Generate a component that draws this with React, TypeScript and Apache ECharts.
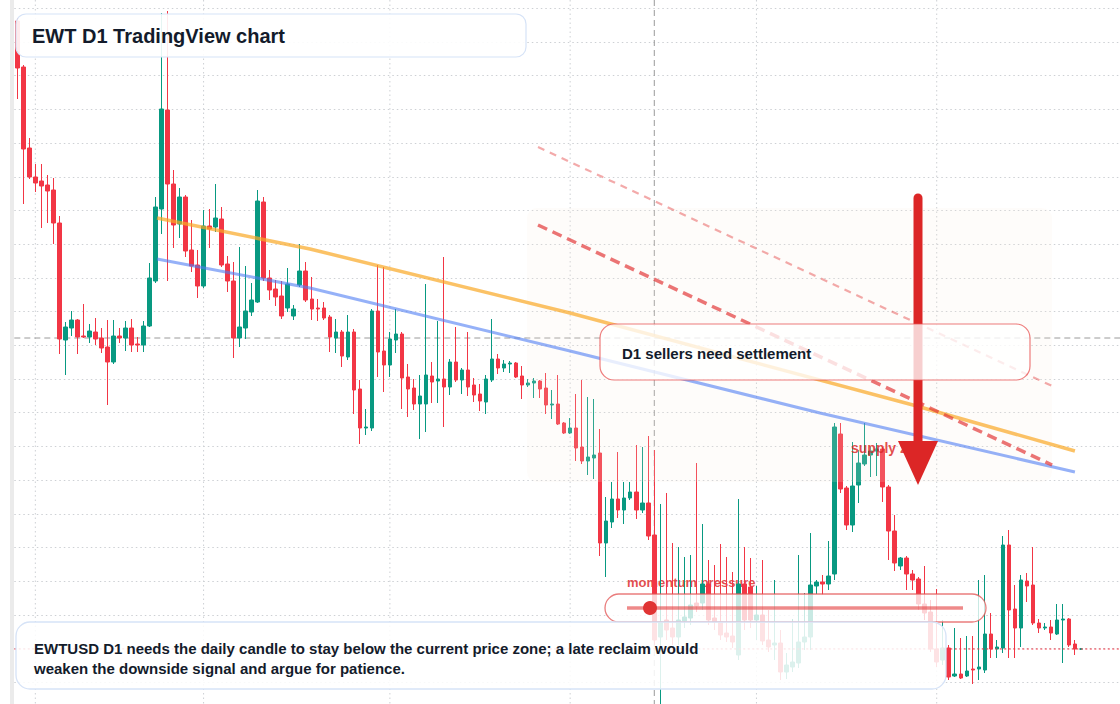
import React, { useEffect, useRef } from "react";
import * as echarts from "echarts";

// Daily EWT/USD candles: [open, close, low, high]
const CANDLES: number[][] = [
  [2.085, 1.944, 1.851, 2.094], [1.947, 1.701, 1.536, 1.953], [1.704, 1.617, 1.611, 1.734], [1.617, 1.599, 1.572, 1.656],
  [1.605, 1.59, 1.464, 1.656], [1.593, 1.575, 1.479, 1.623], [1.578, 1.479, 1.416, 1.614], [1.479, 1.131, 1.086, 1.5],
  [1.128, 1.167, 1.023, 1.182], [1.164, 1.188, 1.14, 1.215], [1.188, 1.137, 1.086, 1.191], [1.14, 1.137, 1.134, 1.236],
  [1.137, 1.155, 1.119, 1.176], [1.152, 1.131, 1.113, 1.194], [1.134, 1.104, 1.089, 1.164], [1.107, 1.062, 0.933, 1.188],
  [1.062, 1.14, 1.056, 1.188], [1.14, 1.134, 1.119, 1.164], [1.134, 1.164, 1.095, 1.185], [1.164, 1.113, 1.092, 1.191],
  [1.116, 1.113, 1.092, 1.137], [1.113, 1.17, 1.092, 1.185], [1.17, 1.314, 1.167, 1.359], [1.305, 1.527, 1.299, 1.557],
  [1.521, 1.821, 1.446, 2.109], [1.818, 1.596, 1.305, 2.115], [1.596, 1.473, 1.404, 1.638], [1.476, 1.557, 1.434, 1.584],
  [1.557, 1.395, 1.377, 1.563], [1.398, 1.35, 1.332, 1.488], [1.353, 1.29, 1.254, 1.398], [1.29, 1.47, 1.284, 1.518],
  [1.47, 1.461, 1.404, 1.521], [1.467, 1.494, 1.452, 1.596], [1.491, 1.353, 1.347, 1.527], [1.356, 1.305, 1.272, 1.38],
  [1.305, 1.134, 1.074, 1.362], [1.134, 1.167, 1.107, 1.407], [1.164, 1.215, 1.131, 1.35], [1.212, 1.248, 1.2, 1.299],
  [1.242, 1.545, 1.239, 1.578], [1.542, 1.314, 1.305, 1.557], [1.314, 1.278, 1.248, 1.338], [1.281, 1.257, 1.23, 1.308],
  [1.26, 1.2, 1.191, 1.305], [1.224, 1.296, 1.212, 1.344], [1.2, 1.221, 1.188, 1.233], [1.293, 1.335, 1.287, 1.416],
  [1.335, 1.248, 1.242, 1.362], [1.251, 1.221, 1.188, 1.317], [1.224, 1.221, 1.185, 1.251], [1.224, 1.194, 1.188, 1.242],
  [1.197, 1.137, 1.092, 1.203], [1.134, 1.152, 1.089, 1.191], [1.152, 1.08, 1.047, 1.158], [1.077, 1.152, 1.068, 1.203],
  [1.152, 0.978, 0.906, 1.161], [0.981, 0.864, 0.816, 1.008], [0.864, 0.867, 0.843, 0.921], [0.864, 1.215, 0.855, 1.221],
  [1.215, 1.092, 1.017, 1.353], [1.095, 1.053, 0.972, 1.347], [1.053, 1.131, 1.017, 1.152], [1.128, 1.146, 1.089, 1.221],
  [1.146, 1.014, 0.921, 1.152], [1.017, 0.981, 0.897, 1.056], [0.984, 0.936, 0.918, 1.011], [0.936, 0.96, 0.831, 1.023],
  [0.936, 1.023, 0.852, 1.296], [1.02, 1.002, 0.939, 1.062], [1.005, 1.011, 0.939, 1.185], [1.011, 0.987, 0.867, 1.377],
  [0.987, 1.062, 0.963, 1.071], [1.062, 1.008, 1.002, 1.167], [1.008, 1.038, 0.966, 1.044], [1.038, 0.987, 0.96, 1.152],
  [0.993, 0.963, 0.942, 1.014], [0.966, 0.945, 0.915, 0.996], [0.942, 1.011, 0.906, 1.023], [1.008, 1.071, 1.002, 1.191],
  [1.071, 1.044, 1.026, 1.086], [1.044, 1.056, 1.032, 1.068], [1.056, 1.059, 1.029, 1.065], [1.059, 1.017, 1.014, 1.062],
  [1.02, 0.993, 0.951, 1.05], [0.993, 0.999, 0.987, 1.011], [0.999, 1.005, 0.954, 1.014], [1.005, 0.981, 0.954, 1.008],
  [0.984, 0.933, 0.906, 1.029], [0.933, 0.936, 0.891, 0.978], [0.936, 0.876, 0.873, 1.023], [0.879, 0.849, 0.846, 0.882],
  [0.849, 0.864, 0.846, 0.894], [0.864, 0.804, 0.765, 0.966], [0.807, 0.765, 0.756, 1.008], [0.765, 0.777, 0.723, 0.957],
  [0.774, 0.783, 0.711, 0.951], [0.789, 0.519, 0.48, 0.861], [0.519, 0.585, 0.417, 0.657], [0.582, 0.651, 0.564, 0.702],
  [0.651, 0.618, 0.594, 0.792], [0.618, 0.654, 0.576, 0.702], [0.654, 0.672, 0.648, 0.702], [0.672, 0.618, 0.591, 0.813],
  [0.618, 0.639, 0.609, 0.807], [0.639, 0.54, 0.528, 0.84], [0.543, 0.228, 0.213, 0.798], [0.237, 0.282, 0.036, 0.636],
  [0.288, 0.258, 0.228, 0.669], [0.264, 0.237, 0.213, 0.519], [0.237, 0.288, 0.213, 0.507], [0.285, 0.297, 0.264, 0.477],
  [0.294, 0.333, 0.273, 0.483], [0.339, 0.33, 0.312, 0.759], [0.339, 0.396, 0.318, 0.576], [0.396, 0.288, 0.273, 0.468],
  [0.294, 0.282, 0.258, 0.453], [0.282, 0.243, 0.228, 0.516], [0.249, 0.237, 0.222, 0.477], [0.24, 0.222, 0.204, 0.432],
  [0.183, 0.396, 0.168, 0.651], [0.396, 0.288, 0.258, 0.507], [0.387, 0.288, 0.264, 0.474], [0.288, 0.303, 0.228, 0.39],
  [0.303, 0.225, 0.213, 0.468], [0.228, 0.207, 0.192, 0.318], [0.213, 0.219, 0.168, 0.408], [0.219, 0.132, 0.108, 0.258],
  [0.132, 0.153, 0.111, 0.189], [0.147, 0.162, 0.132, 0.291], [0.159, 0.222, 0.144, 0.483], [0.222, 0.237, 0.198, 0.369],
  [0.237, 0.393, 0.198, 0.549], [0.39, 0.402, 0.366, 0.408], [0.402, 0.396, 0.363, 0.423], [0.396, 0.42, 0.378, 0.525],
  [0.426, 0.867, 0.408, 0.879], [0.846, 0.681, 0.669, 0.879], [0.684, 0.573, 0.558, 0.69], [0.573, 0.69, 0.552, 0.822],
  [0.693, 0.759, 0.639, 0.798], [0.756, 0.783, 0.75, 0.879], [0.783, 0.795, 0.717, 0.807], [0.795, 0.801, 0.72, 0.819],
  [0.801, 0.687, 0.642, 0.807], [0.687, 0.555, 0.468, 0.693], [0.555, 0.459, 0.435, 0.603], [0.45, 0.474, 0.438, 0.477],
  [0.474, 0.426, 0.378, 0.48], [0.426, 0.408, 0.378, 0.438], [0.411, 0.336, 0.318, 0.417], [0.336, 0.309, 0.288, 0.45],
  [0.312, 0.201, 0.192, 0.348], [0.201, 0.162, 0.147, 0.381], [0.168, 0.204, 0.153, 0.288], [0.204, 0.117, 0.108, 0.213],
  [0.12, 0.126, 0.117, 0.264], [0.126, 0.114, 0.111, 0.234], [0.12, 0.135, 0.117, 0.24], [0.141, 0.138, 0.096, 0.24],
  [0.141, 0.147, 0.108, 0.408], [0.138, 0.246, 0.129, 0.423], [0.246, 0.201, 0.174, 0.309], [0.201, 0.207, 0.174, 0.228],
  [0.204, 0.513, 0.189, 0.54], [0.513, 0.318, 0.174, 0.558], [0.321, 0.264, 0.174, 0.393], [0.264, 0.408, 0.207, 0.423],
  [0.405, 0.39, 0.342, 0.429], [0.393, 0.279, 0.273, 0.507], [0.279, 0.264, 0.249, 0.291], [0.264, 0.267, 0.258, 0.279],
  [0.267, 0.249, 0.228, 0.288], [0.246, 0.288, 0.243, 0.336], [0.288, 0.291, 0.159, 0.336], [0.291, 0.213, 0.207, 0.294],
  [0.216, 0.201, 0.183, 0.228], [0.201, 0.201, 0.198, 0.204],
];

// Time slots (candles plus empty room on the right)
const SLOT_COUNT = 184;
const START_DAY = Date.UTC(2025, 0, 29);
const DATES = Array.from({ length: SLOT_COUNT }, (_, i) =>
  new Date(START_DAY + i * 86400000).toISOString().slice(0, 10)
);
const MONTH_STARTS = DATES.map((d, i) => (d.endsWith("-01") ? i : -1)).filter((i) => i >= 0);

// Price scale
const PRICE_MIN = 0.1011;
const PRICE_MAX = 2.1231;
const PRICE_STEP = 0.1011;
const VIEW_TOP = 2.148;
const VIEW_BOTTOM = 0.036;

const LAST_PRICE = 0.201;
const CROSS_INDEX = 106;
const CROSS_PRICE = 1.134;

// Trend lines as [slot, price]
const ORANGE_TREND = [[23.25, 1.494], [48.71, 1.401], [91.98, 1.209], [149.05, 0.933], [176.0, 0.795]];
const BLUE_TREND = [[23.25, 1.371], [48.71, 1.284], [91.98, 1.095], [133.58, 0.909], [176.0, 0.732]];
const CHANNEL_UPPER = [[86.65, 1.707], [172.2, 0.99]];
const CHANNEL_LOWER = [[86.65, 1.473], [172.2, 0.753]];

const UP = "#089981";
const DOWN = "#f23645";
const FONT = '"Liberation Sans", Arial, Helvetica, sans-serif';
const INK = "#131b2b";

function lineSeries(data: number[][], lineStyle: any, z: number) {
  return {
    type: "line",
    xAxisIndex: 1,
    yAxisIndex: 0,
    data,
    symbol: "none",
    silent: true,
    clip: false,
    z,
    lineStyle,
  };
}

export default function App() {
  const ref = useRef<HTMLDivElement>(null);

  useEffect(() => {
    if (!ref.current) return;
    const chart = echarts.init(ref.current, undefined, { renderer: "svg" });

    const gridDots = { color: "#cdd0d4", width: 1, type: [1.5, 3] };
    const monthLines = MONTH_STARTS.map((i) =>
      lineSeries([[i, VIEW_TOP], [i, VIEW_BOTTOM]], gridDots, 1)
    );

    const option: any = {
      animation: false,
      backgroundColor: "#ffffff",
      grid: { left: 14.3, right: 0, top: 8.3, bottom: 21.7 },
      xAxis: [
        { type: "category", data: DATES, boundaryGap: true, show: false },
        { type: "value", min: -0.5, max: SLOT_COUNT - 0.5, show: false },
      ],
      yAxis: {
        type: "value",
        min: PRICE_MIN,
        max: PRICE_MAX,
        interval: PRICE_STEP,
        axisLine: { show: false },
        axisTick: { show: false },
        axisLabel: { show: false },
        splitLine: { show: true, lineStyle: gridDots },
      },
      series: [
        ...monthLines,
        lineSeries([[CROSS_INDEX, VIEW_TOP], [CROSS_INDEX, VIEW_BOTTOM]], { color: "#9a9a9a", width: 1, type: [6, 4] }, 1),
        lineSeries([[-0.5, CROSS_PRICE], [SLOT_COUNT - 0.5, CROSS_PRICE]], { color: "#9a9a9a", width: 1, type: [6, 4] }, 1),
        {
          type: "candlestick",
          xAxisIndex: 0,
          yAxisIndex: 0,
          data: CANDLES,
          barWidth: 4,
          clip: false,
          silent: true,
          z: 2,
          itemStyle: { color: UP, color0: DOWN, borderColor: UP, borderColor0: DOWN, borderWidth: 1 },
        },
        lineSeries([[-0.5, LAST_PRICE], [SLOT_COUNT - 0.5, LAST_PRICE]], { color: DOWN, width: 1.2, type: [2, 2.5] }, 3),
        lineSeries(ORANGE_TREND, { color: "rgba(249,168,37,0.7)", width: 3.5 }, 5),
        lineSeries(BLUE_TREND, { color: "rgba(79,125,243,0.6)", width: 3 }, 5),
        lineSeries(CHANNEL_UPPER, { color: "rgba(226,52,52,0.42)", width: 2.2, type: [7, 6] }, 5),
        lineSeries(CHANNEL_LOWER, { color: "rgba(226,52,52,0.68)", width: 3.5, type: [10, 6] }, 5),
      ],
      graphic: [
        { type: "rect", z: 0, silent: true, shape: { x: 10, y: 0, width: 4, height: 704 }, style: { fill: "#ebebeb" } },
        {
          type: "text", z: 1, silent: true, x: 627, y: 582,
          style: { text: "momentum pressure", font: `bold 13px ${FONT}`, fill: "rgba(220,38,38,0.82)", verticalAlign: "middle" },
        },
        {
          type: "rect", z: 4, silent: true,
          shape: { x: 527, y: 208, width: 525, height: 274, r: 10 },
          style: { fill: "rgba(250,236,224,0.16)" },
        },
        {
          type: "text", z: 6, silent: true, x: 851, y: 448,
          style: { text: "supply zone", font: `bold 14px ${FONT}`, fill: "rgba(220,38,38,0.82)", verticalAlign: "middle" },
        },
        {
          type: "line", z: 6, silent: true,
          shape: { x1: 918, y1: 198, x2: 918, y2: 446 },
          style: { stroke: "#dc2626", lineWidth: 9, lineCap: "round" },
        },
        {
          type: "rect", z: 7, silent: true,
          shape: { x: 600, y: 324, width: 430, height: 56, r: 14 },
          style: { fill: "rgba(255,255,255,0.78)", stroke: "rgba(232,82,82,0.75)", lineWidth: 1.2 },
        },
        {
          type: "text", z: 10, silent: true, x: 622, y: 353,
          style: { text: "D1 sellers need settlement", font: `bold 15px ${FONT}`, fill: INK, verticalAlign: "middle" },
        },
        {
          type: "polygon", z: 8, silent: true,
          shape: { points: [[898, 441], [938, 441], [918, 485]] },
          style: { fill: "#dc2626" },
        },
        {
          type: "rect", z: 7, silent: true,
          shape: { x: 605, y: 594, width: 381, height: 28, r: 14 },
          style: { fill: "rgba(255,255,255,0.78)", stroke: "rgba(226,80,80,0.75)", lineWidth: 1.3 },
        },
        {
          type: "line", z: 8, silent: true,
          shape: { x1: 627, y1: 608, x2: 963, y2: 608 },
          style: { stroke: "rgba(226,60,60,0.6)", lineWidth: 3.5 },
        },
        {
          type: "circle", z: 8, silent: true,
          shape: { cx: 650, cy: 608, r: 7 },
          style: { fill: "#e03434" },
        },
        {
          type: "rect", z: 9, silent: true,
          shape: { x: 16, y: 622, width: 930, height: 67, r: 14 },
          style: { fill: "rgba(255,255,255,0.86)", stroke: "#d6e3f7", lineWidth: 1.3 },
        },
        {
          type: "text", z: 10, silent: true, x: 34, y: 648,
          style: {
            text: "EWTUSD D1 needs the daily candle to stay below the current price zone; a late reclaim would",
            font: `bold 15px ${FONT}`, fill: INK, verticalAlign: "middle",
          },
        },
        {
          type: "text", z: 10, silent: true, x: 34, y: 668,
          style: {
            text: "weaken the downside signal and argue for patience.",
            font: `bold 15px ${FONT}`, fill: INK, verticalAlign: "middle",
          },
        },
        {
          type: "rect", z: 9, silent: true,
          shape: { x: 16, y: 14, width: 510, height: 43, r: 10 },
          style: { fill: "rgba(255,255,255,0.9)", stroke: "#d6e3f7", lineWidth: 1.2 },
        },
        {
          type: "text", z: 10, silent: true, x: 32, y: 36,
          style: { text: "EWT D1 TradingView chart", font: `bold 20px ${FONT}`, fill: INK, verticalAlign: "middle" },
        },
      ],
    };

    chart.setOption(option);
    return () => chart.dispose();
  }, []);

  return (
    <div
      ref={ref}
      style={{ position: "fixed", left: 0, top: 0, width: 1120, height: 704, background: "#ffffff" }}
    />
  );
}
